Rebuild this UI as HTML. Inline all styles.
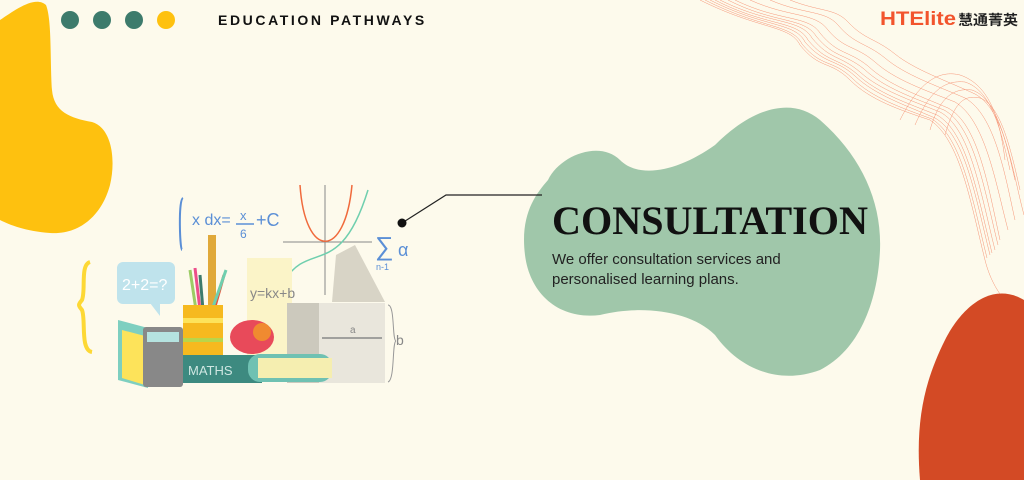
<!DOCTYPE html>
<html><head><meta charset="utf-8"><style>
html,body{margin:0;padding:0;background:#fdfaec;}
svg{display:block}
</style></head><body>
<svg width="1024" height="480" viewBox="0 0 1024 480" xmlns="http://www.w3.org/2000/svg">
<rect width="1024" height="480" fill="#fdfaec"/>
<path d="M0,20 C15,10 35,-5 46,5 C52,20 50,60 52,90 C54,112 70,118 92,122 C112,128 116,160 110,185 C102,215 80,235 50,233 C25,231 10,225 0,220 Z" fill="#fec10f"/>
<g fill="none" stroke="#f26a45" stroke-width="0.5" opacity="0.7">
<path d="M700,0 C760,30 790,25 800,45 C820,70 830,60 850,80 C870,100 900,110 930,120 C960,140 970,200 985,260 C990,280 1000,300 1024,320"/>
<path d="M705,0 C762,29 792,24 802,44 C822,68 832,59 852,78 C872,98 902,108 932,119 C962,138 972,198 987,258"/>
<path d="M710,0 C765,28 795,22 805,42 C825,65 835,58 855,76 C875,95 905,105 935,118 C965,135 975,195 990,255"/>
<path d="M715,0 C767,27 797,20 808,40 C827,63 837,57 857,74 C877,93 907,103 937,115 C967,132 977,193 992,253"/>
<path d="M720,0 C770,25 800,18 812,38 C830,60 840,55 860,72 C880,90 910,100 940,112 C970,128 980,190 995,250"/>
<path d="M728,0 C775,24 804,17 816,36 C834,58 844,53 864,69 C884,88 914,98 944,110 C974,126 984,188 998,245"/>
<path d="M735,0 C780,22 808,15 820,33 C838,55 848,50 868,66 C888,85 918,95 948,108 C978,124 988,185 1000,240"/>
<path d="M750,0 C790,18 815,12 828,30 C845,50 855,45 875,62 C895,80 925,90 955,102 C985,120 995,180 1008,230"/>
<path d="M770,0 C805,15 825,10 838,25 C855,45 865,42 885,58 C905,75 935,85 965,98 C995,115 1005,175 1015,220"/>
<path d="M790,0 C820,12 835,8 848,22 C865,40 875,38 895,54 C915,70 945,80 975,94 C1005,110 1012,170 1024,215"/>
<path d="M900,120 C920,80 940,70 960,75 C990,85 1000,120 1005,160"/>
<path d="M915,125 C930,90 945,80 965,82 C990,90 1000,125 1010,170"/>
<path d="M930,130 C940,95 955,88 972,90 C995,98 1005,135 1015,180"/>
<path d="M945,135 C955,100 965,95 980,98 C1000,105 1010,145 1020,190"/>
</g>
<path d="M1024,300 C990,280 960,310 945,340 C925,380 915,420 920,480 L1024,480 Z" fill="#d34a25"/>
<path d="M548,180 C560,155 600,140 620,160 C640,180 680,170 715,145 C750,110 790,95 820,120 C860,155 882,200 880,250 C878,300 860,350 820,370 C780,385 740,370 715,335 C690,310 640,305 600,315 C560,320 530,295 525,255 C520,215 535,195 548,180 Z" fill="#a0c7aa"/>
<polyline points="402,223 446,195 542,195" fill="none" stroke="#222" stroke-width="1.2"/>
<circle cx="402" cy="223" r="4.5" fill="#111"/>
<circle cx="70" cy="20" r="9" fill="#3d7b6c"/>
<circle cx="102" cy="20" r="9" fill="#3d7b6c"/>
<circle cx="134" cy="20" r="9" fill="#3d7b6c"/>
<circle cx="166" cy="20" r="9" fill="#fec10f"/>
<text x="218" y="25" font-family="Liberation Sans, sans-serif" font-size="14" font-weight="bold" letter-spacing="2.6" fill="#111">EDUCATION PATHWAYS</text>
<text x="880" y="25" font-family="Liberation Sans, sans-serif" font-size="19" font-weight="bold" fill="#f2542d" textLength="76" lengthAdjust="spacingAndGlyphs">HTElite</text>
<text x="958" y="25" font-family="Liberation Sans, 'Noto Sans CJK SC', sans-serif" font-size="14" font-weight="bold" fill="#222" textLength="60" lengthAdjust="spacingAndGlyphs">慧通菁英</text>
<text x="552" y="234" font-family="Liberation Serif, serif" font-size="40" font-weight="bold" fill="#111" textLength="316" lengthAdjust="spacingAndGlyphs">CONSULTATION</text>
<text x="552" y="264" font-family="Liberation Sans, sans-serif" font-size="15" fill="#222">We offer consultation services and</text>
<text x="552" y="284" font-family="Liberation Sans, sans-serif" font-size="15" fill="#222">personalised learning plans.</text>
<g font-family="Liberation Sans, sans-serif">
<path d="M90,262 C80,265 86,290 82,300 C78,305 78,305 82,310 C86,320 80,350 92,352" fill="none" stroke="#fdd835" stroke-width="4"/>
<rect x="117" y="262" width="58" height="42" rx="6" fill="#bfe3ec"/>
<path d="M150,303 L160,316 L160,303 Z" fill="#bfe3ec"/>
<text x="122" y="290" font-size="16" fill="#fff">2+2=?</text>
<path d="M183,198 C178,200 180,250 182,250" fill="none" stroke="#5b8fd6" stroke-width="2"/>
<text x="192" y="225" font-size="16" fill="#5b8fd6">x dx=</text>
<text x="240" y="220" font-size="13" fill="#5b8fd6">x</text>
<line x1="236" y1="224" x2="254" y2="224" stroke="#5b8fd6" stroke-width="1.5"/>
<text x="240" y="238" font-size="12" fill="#5b8fd6">6</text>
<text x="256" y="226" font-size="18" fill="#5b8fd6">+C</text>
<line x1="283" y1="242" x2="372" y2="242" stroke="#888" stroke-width="1"/>
<line x1="325" y1="185" x2="325" y2="295" stroke="#888" stroke-width="1"/>
<path d="M300,185 C305,260 345,260 352,185" fill="none" stroke="#f06a3c" stroke-width="1.5"/>
<path d="M285,280 C310,240 340,280 368,190" fill="none" stroke="#6fcfae" stroke-width="1.5"/>
<text x="375" y="255" font-size="26" fill="#5b8fd6">∑</text>
<text x="398" y="256" font-size="18" fill="#5b8fd6">α</text>
<text x="376" y="270" font-size="9" fill="#5b8fd6">n-1</text>
<rect x="247" y="258" width="45" height="100" fill="#fbf4c8"/>
<text x="250" y="298" font-size="14" fill="#888">y=kx+b</text>
<rect x="208" y="235" width="8" height="80" fill="#e0a93a"/>
<g stroke-width="3">
<line x1="190" y1="270" x2="196" y2="310" stroke="#9ccc65"/>
<line x1="195" y1="268" x2="200" y2="310" stroke="#ec4e8a"/>
<line x1="200" y1="275" x2="203" y2="310" stroke="#3d7b6c"/>
<line x1="224" y1="275" x2="214" y2="310" stroke="#e5533a"/>
<line x1="226" y1="270" x2="212" y2="310" stroke="#6fcfae"/>
</g>
<rect x="183" y="305" width="40" height="50" fill="#f6b91f"/>
<rect x="183" y="318" width="40" height="5" fill="#fde35a"/>
<rect x="183" y="338" width="40" height="4" fill="#b9d54a"/>
<path d="M336,255 L355,245 L385,302 L332,302 Z" fill="#d8d4c6"/>
<rect x="287" y="303" width="98" height="80" fill="#e9e6dc"/>
<rect x="287" y="303" width="32" height="80" fill="#ccc9bd"/>
<line x1="322" y1="338" x2="382" y2="338" stroke="#888" stroke-width="1.5"/>
<text x="350" y="333" font-size="10" fill="#888">a</text>
<text x="396" y="345" font-size="14" fill="#888">b</text>
<path d="M388,305 C395,305 392,340 396,341 C392,342 395,380 388,382" fill="none" stroke="#999"/>
<ellipse cx="252" cy="337" rx="22" ry="17" fill="#e84a5a"/>
<ellipse cx="262" cy="332" rx="9" ry="9" fill="#f08a30"/>
<rect x="182" y="355" width="80" height="28" fill="#3d8a80"/>
<text x="188" y="375" font-size="13" fill="#cfe7e2">MATHS</text>
<rect x="248" y="354" width="84" height="28" rx="12" fill="#6fc1b2"/>
<rect x="258" y="358" width="74" height="20" fill="#f5eeb0"/>
<path d="M118,320 L148,328 L148,388 L118,380 Z" fill="#7ecfc0"/>
<path d="M122,330 L145,336 L145,385 L122,378 Z" fill="#fde35a"/>
<rect x="143" y="327" width="40" height="60" rx="3" fill="#888"/>
<rect x="147" y="332" width="32" height="10" fill="#b5e3e0"/>
</g>
</svg>
</body></html>
